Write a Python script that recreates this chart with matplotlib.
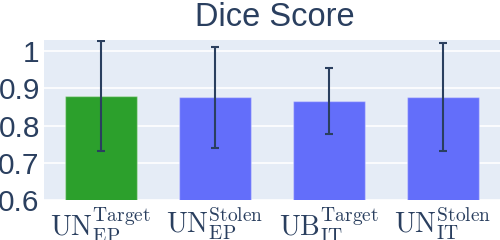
import matplotlib
matplotlib.use("Agg")
import matplotlib.pyplot as plt

models = [r"$\mathrm{UN}_{\mathrm{EP}}^{\mathrm{Target}}$",
          r"$\mathrm{UN}_{\mathrm{EP}}^{\mathrm{Stolen}}$",
          r"$\mathrm{UB}_{\mathrm{IT}}^{\mathrm{Target}}$",
          r"$\mathrm{UN}_{\mathrm{IT}}^{\mathrm{Stolen}}$"]
dice = [0.879, 0.876, 0.867, 0.876]
dice_std = [0.147, 0.136, 0.089, 0.145]
colors = ["#2ca02c", "#636efa", "#636efa", "#636efa"]

plt.rcParams["mathtext.fontset"] = "cm"
plt.rcParams["font.family"] = ["Liberation Sans", "DejaVu Sans"]
text_col = "#2a3f5f"

fig = plt.figure(figsize=(5, 2.4), dpi=100)
ax = fig.add_axes([0.088, 0.1667, 0.912, 0.6667])
ax.set_facecolor("#e5ecf6")

xs = range(len(models))
ax.bar(xs, dice, width=0.64, color=colors, edgecolor=(1, 1, 1, 0.35), linewidth=1, zorder=2)
ax.errorbar(xs, dice, yerr=dice_std, fmt="none", ecolor=text_col, elinewidth=1.5,
            capsize=3, capthick=1.5, zorder=3)

ax.set_xlim(-0.5, len(models) - 0.5)
ax.set_ylim(0.6, 1.03)
ax.set_yticks([0.6, 0.7, 0.8, 0.9, 1.0])
ax.set_yticklabels(["0.6", "0.7", "0.8", "0.9", "1"])
ax.set_xticks(list(xs))
ax.set_xticklabels(models, fontsize=20)
ax.tick_params(axis="y", labelsize=21.5, colors=text_col, length=0, pad=3)
ax.tick_params(axis="x", colors=text_col, length=0, pad=4)
ax.grid(axis="y", color="white", linewidth=1.2, zorder=1)
for s in ax.spines.values():
    s.set_visible(False)

fig.text(0.55, 0.99, "Dice Score", ha="center", va="top", fontsize=23.5, color=text_col)

fig.savefig("out.png", dpi=100)
